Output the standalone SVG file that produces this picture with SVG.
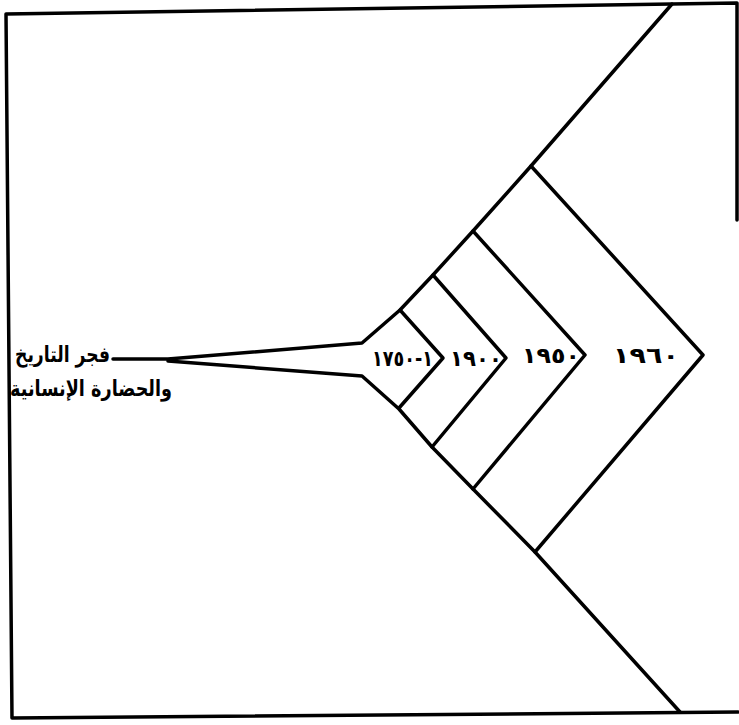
<svg xmlns="http://www.w3.org/2000/svg" width="739" height="725" viewBox="0 0 739 725">
<style>
.ln{fill:none;stroke:#000;stroke-width:3.5;stroke-linejoin:round;stroke-linecap:round}
.t{font-family:"DejaVu Sans","Noto Sans",sans-serif;font-size:22px;font-weight:bold;fill:#000}
.d{font-family:"DejaVu Sans","Noto Sans",sans-serif;font-size:22px;font-weight:bold;fill:#000;unicode-bidi:bidi-override;direction:ltr}
</style>
<rect width="739" height="725" fill="#fff"/>
<g id="frame">
<polyline class="ln" points="737,220 737,3 6,14 12,718 738,712"/>
</g>
<g id="connectors">
<polyline class="ln" points="672,4 531,166 473,231 433,275 400,310 362,343 168,359 113,359"/>
<polyline class="ln" points="168,361 362,376 399,409 432,447 473,489 535,552 680,712"/>
</g>
<g id="c1750">
<polyline class="ln" points="400,310 443,358 399,408"/>
<text class="d" x="372" y="366" textLength="61" lengthAdjust="spacingAndGlyphs">١٧٥٠-١</text>
</g>
<g id="c1900">
<polyline class="ln" points="433,275 506,358 432,447"/>
<text class="d" x="450" y="366" textLength="52" lengthAdjust="spacingAndGlyphs">١٩٠٠</text>
</g>
<g id="c1950">
<polyline class="ln" points="473,231 585,355 473,489"/>
<text class="d" x="522" y="363" textLength="58" lengthAdjust="spacingAndGlyphs">١٩٥٠</text>
</g>
<g id="c1960">
<polyline class="ln" points="531,166 703,355 535,552"/>
<text class="d" x="613" y="363" textLength="66" lengthAdjust="spacingAndGlyphs">١٩٦٠</text>
</g>
<g id="label">
<text class="t" x="110" y="362" text-anchor="end" textLength="95" lengthAdjust="spacingAndGlyphs">فجر التاريخ</text>
<text class="t" x="172" y="396" text-anchor="end" textLength="162" lengthAdjust="spacingAndGlyphs">والحضارة الإنسانية</text>
</g>
</svg>
